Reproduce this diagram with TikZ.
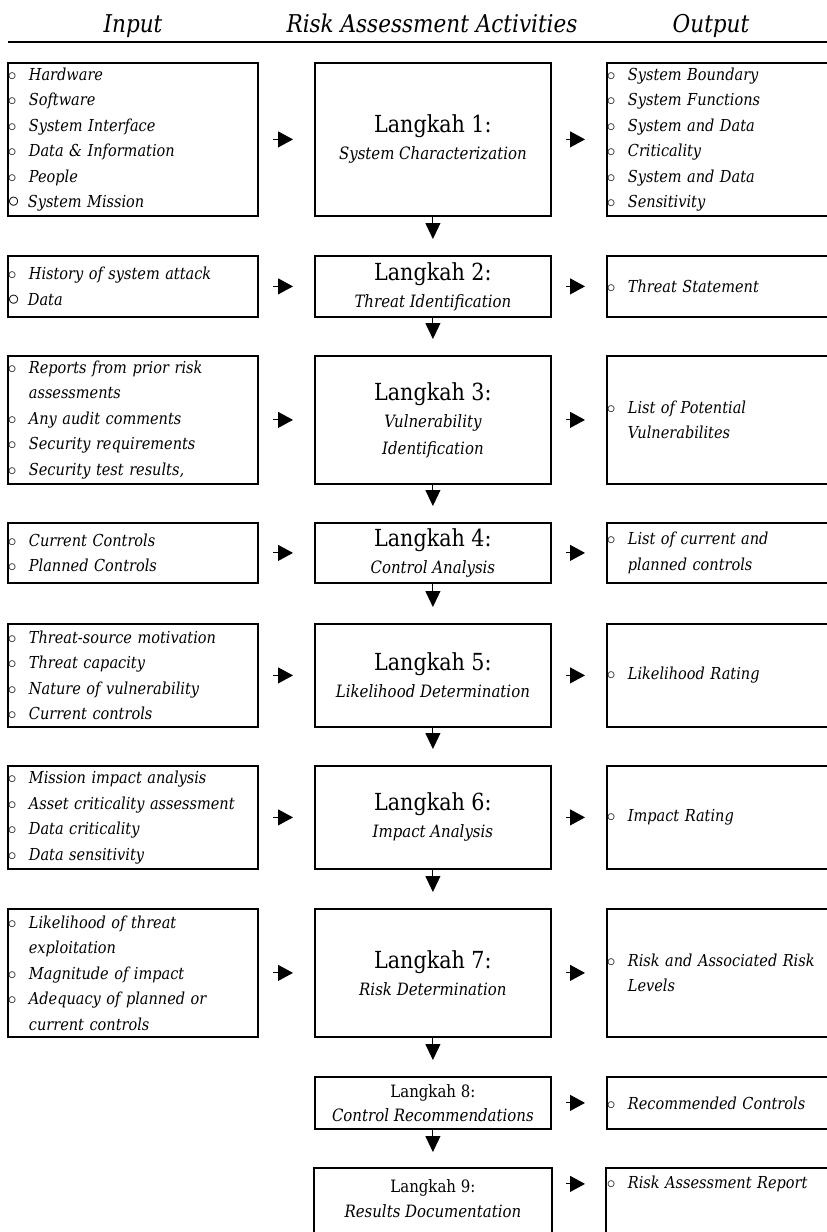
\documentclass[tikz,border=0pt]{standalone}
\usepackage{fontspec}
\usepackage{graphicx}
\setmainfont{DejaVu Serif}[FakeStretch=0.88]
\usetikzlibrary{arrows.meta}
% list bullets and step titles
\newcommand\bl{\makebox[21pt][l]{$\circ$}}
\newcommand\bbl{\makebox[20pt][l]{\scalebox{1.35}{$\circ$}}}
\newcommand\ind{\hspace*{21pt}}
\newcommand\lk[1]{{\upshape\fontsize{23.5}{27}\selectfont Langkah #1:}}
\newcommand\lks[1]{{\upshape Langkah #1:}}
\begin{document}
\begin{tikzpicture}[x=1pt,y=-1pt,
  box/.style={draw, line width=1.8pt, inner xsep=0pt, inner ysep=0pt, anchor=north west},
  mid/.style={box, align=center, font=\itshape\fontsize{17}{27}\selectfont},
  lst/.style={box, align=left, font=\itshape\fontsize{16.5}{25.5}\selectfont},
  head/.style={anchor=base, font=\itshape\fontsize{24.5}{30}\selectfont},
  harrow/.style={-{Triangle[length=15pt,width=16pt]}, line width=1pt, shorten <=14pt, shorten >=21pt},
  varrow/.style={-{Triangle[length=16pt,width=15pt]}, line width=1pt, shorten >=16pt}]
\useasboundingbox (0,0) rectangle (827,1232);

% column headings
\node[head] (hin)  at (133,32) {Input};
\node[head] (hact) at (432,32) {Risk Assessment Activities};
\node[head] (hout) at (711,32) {Output};
\coordinate (hl) at (8,42);
\coordinate (hr) at (827,42);
\draw[line width=2pt] (hl) -- (hr);

% step 1
\node[lst, text width=250pt, minimum height=153pt] (l1) at (7,62)
  {\bl Hardware\\\bl Software\\\bl System Interface\\\bl Data \& Information\\\bl People\\\bbl System Mission};
\node[mid, minimum width=236pt, minimum height=153pt] (m1) at (314,62)
  {\lk{1}\\System Characterization};
\node[lst, text width=234pt, minimum height=153pt] (r1) at (606,62)
  {\bl System Boundary\\\bl System Functions\\\bl System and Data\\\bl Criticality\\\bl System and Data\\\bl Sensitivity};

% step 2
\node[lst, text width=250pt, minimum height=61pt] (l2) at (7,255)
  {\bl History of system attack\\\bbl Data};
\node[mid, minimum width=236pt, minimum height=61pt] (m2) at (314,255)
  {\lk{2}\\Threat Identification};
\node[lst, text width=234pt, minimum height=61pt] (r2) at (606,255)
  {\bl Threat Statement};

% step 3
\node[lst, text width=250pt, minimum height=128pt] (l3) at (7,355)
  {\bl Reports from prior risk\\\ind assessments\\\bl Any audit comments\\\bl Security requirements\\\bl Security test results,};
\node[mid, minimum width=236pt, minimum height=128pt] (m3) at (314,355)
  {\lk{3}\\Vulnerability\\Identification};
\node[lst, text width=234pt, minimum height=128pt] (r3) at (606,355)
  {\bl List of Potential\\\ind Vulnerabilites};

% step 4
\node[lst, text width=250pt, minimum height=60pt] (l4) at (7,522)
  {\bl Current Controls\\\bl Planned Controls};
\node[mid, minimum width=236pt, minimum height=60pt] (m4) at (314,522)
  {\lk{4}\\Control Analysis};
\node[lst, text width=234pt, minimum height=60pt] (r4) at (606,522)
  {\bl List of current and\\\ind planned controls};

% step 5
\node[lst, text width=250pt, minimum height=103pt] (l5) at (7,623)
  {\bl Threat-source motivation\\\bl Threat capacity\\\bl Nature of vulnerability\\\bl Current controls};
\node[mid, minimum width=236pt, minimum height=103pt] (m5) at (314,623)
  {\lk{5}\\Likelihood Determination};
\node[lst, text width=234pt, minimum height=103pt] (r5) at (606,623)
  {\bl Likelihood Rating};

% step 6
\node[lst, text width=250pt, minimum height=103pt] (l6) at (7,765)
  {\bl Mission impact analysis\\\bl Asset criticality assessment\\\bl Data criticality\\\bl Data sensitivity};
\node[mid, minimum width=236pt, minimum height=103pt] (m6) at (314,765)
  {\lk{6}\\Impact Analysis};
\node[lst, text width=234pt, minimum height=103pt] (r6) at (606,765)
  {\bl Impact Rating};

% step 7
\node[lst, text width=250pt, minimum height=128pt] (l7) at (7,908)
  {\bl Likelihood of threat\\\ind exploitation\\\bl Magnitude of impact\\\bl Adequacy of planned or\\\ind current controls};
\node[mid, minimum width=236pt, minimum height=128pt] (m7) at (314,908)
  {\lk{7}\\Risk Determination};
\node[lst, text width=234pt, minimum height=128pt] (r7) at (606,908)
  {\bl Risk and Associated Risk\\\ind Levels};

% step 8
\node[mid, minimum width=236pt, minimum height=52pt, font=\itshape\fontsize{17}{24}\selectfont] (m8) at (314,1076)
  {\lks{8}\\Control Recommendations};
\node[lst, text width=234pt, minimum height=52pt] (r8) at (606,1076)
  {\bl Recommended Controls};

% step 9: frames run on past the lower edge
\node[mid, draw=none, minimum width=236pt, minimum height=60pt, font=\itshape\fontsize{17}{25}\selectfont] (m9) at (314,1168)
  {\lks{9}\\Results Documentation};
\node[lst, draw=none, text width=234pt, minimum height=30pt] (r9) at (606,1168)
  {\bl Risk Assessment Report};
\draw[line width=1.8pt] ([yshift=-40pt]m9.south west) -- (m9.north west) -- (m9.north east) -- ([yshift=-40pt]m9.south east);
\draw[line width=1.8pt] ([yshift=-70pt]r9.south west) -- (r9.north west) -- (r9.north east);

% inputs to steps, steps to outputs
\foreach \i in {1,...,7} {
  \draw[harrow] (l\i) -- (m\i);
}
\foreach \i in {1,...,8} {
  \draw[harrow] (m\i) -- (r\i);
}
\draw[harrow] (m9.east |- r9.west) -- (r9.west);

% flow between steps
\foreach \i/\j in {1/2,2/3,3/4,4/5,5/6,6/7,7/8,8/9} {
  \draw[varrow] (m\i.south) -- (m\j.north);
}
\end{tikzpicture}
\end{document}
